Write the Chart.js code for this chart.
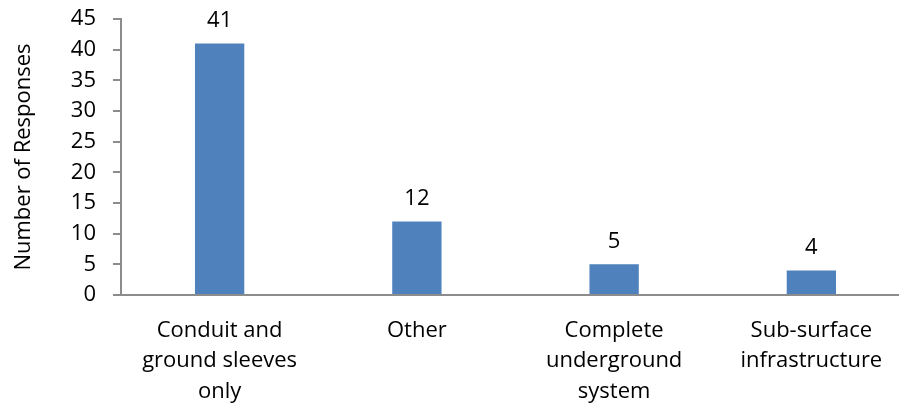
<!DOCTYPE html>
<html>
<head>
<meta charset="utf-8">
<script src="https://cdn.jsdelivr.net/npm/chart.js@4"></script>
<style>
  html, body { margin: 0; padding: 0; background: #fff; overflow: hidden; }
  #wrap { width: 910px; height: 411px; }
</style>
</head>
<body>
<div id="wrap"><canvas id="responsesChart"></canvas></div>
<script>
// Responses per infrastructure option
const categories = [
  ["Conduit and", "ground sleeves", "only"],
  ["Other"],
  ["Complete", "underground", "system"],
  ["Sub-surface", "infrastructure"],
];
const responses = [41, 12, 5, 4];
const yTicks = [0, 5, 10, 15, 20, 25, 30, 35, 40, 45];

const barColor = "#4f81bd";
const axisColor = "#8c8c8c";
const fontFamily = "'Open Sans', sans-serif";

// draws the value above each bar
const valueLabels = {
  id: "valueLabels",
  afterDatasetsDraw(chart) {
    const ctx = chart.ctx;
    const meta = chart.getDatasetMeta(0);
    ctx.save();
    ctx.font = "22px " + fontFamily;
    ctx.fillStyle = "#000";
    ctx.textAlign = "center";
    ctx.textBaseline = "middle";
    meta.data.forEach((bar, i) => {
      ctx.fillText(chart.data.datasets[0].data[i], bar.x, bar.y - 23);
    });
    ctx.restore();
  },
};

const ctx = document.getElementById("responsesChart").getContext("2d");
new Chart(ctx, {
  type: "bar",
  data: {
    labels: categories,
    datasets: [
      {
        label: "Number of Responses",
        data: responses,
        backgroundColor: barColor,
        barPercentage: 0.25,
        categoryPercentage: 1,
      },
    ],
  },
  options: {
    responsive: true,
    maintainAspectRatio: false,
    animation: false,
    layout: { padding: { top: 19, right: 0, left: 0, bottom: 0 } },
    plugins: {
      legend: { display: false },
      tooltip: { enabled: false },
    },
    scales: {
      x: {
        afterFit: (scale) => {
          scale.height = 116;
          scale.paddingTop = 0;
        },
        grid: { display: false, drawTicks: false },
        border: { color: axisColor, width: 2 },
        ticks: {
          color: "#000",
          font: { family: fontFamily, size: 22, lineHeight: 1.4 },
          padding: 20,
          maxRotation: 0,
          autoSkip: false,
        },
      },
      y: {
        min: 0,
        max: 45,
        afterBuildTicks: (scale) => {
          scale.ticks = yTicks.map((v) => ({ value: v }));
        },
        afterFit: (scale) => {
          scale.width = 121;
          scale.paddingTop = 0;
          scale.paddingBottom = 0;
        },
        grid: {
          drawOnChartArea: false,
          drawTicks: true,
          tickLength: 8,
          color: axisColor,
          lineWidth: 2,
        },
        border: { color: axisColor, width: 2 },
        ticks: {
          color: "#000",
          font: { family: fontFamily, size: 22 },
          padding: 17,
        },
        title: {
          display: true,
          text: "Number of Responses",
          color: "#000",
          font: { family: fontFamily, size: 22 },
          padding: { top: 11, bottom: 0 },
        },
      },
    },
  },
  plugins: [valueLabels],
});
</script>
</body>
</html>
